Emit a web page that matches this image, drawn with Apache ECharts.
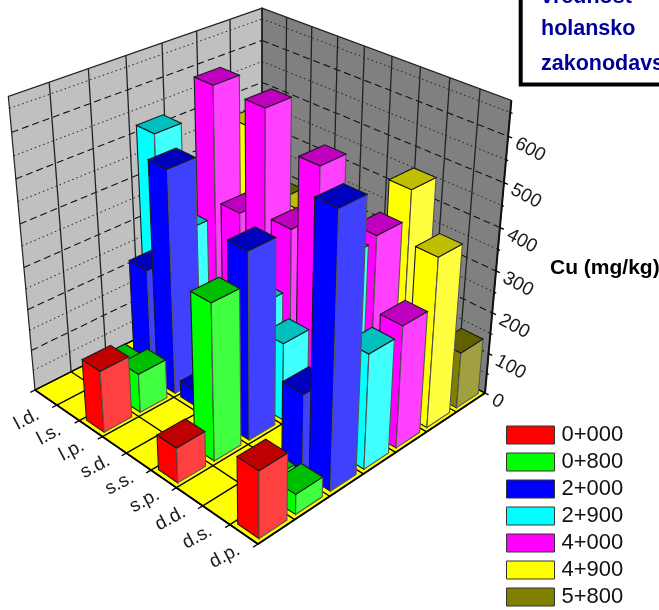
<!DOCTYPE html>
<html>
<head>
<meta charset="utf-8">
<style>html,body{margin:0;padding:0;background:#fff}#c{width:659px;height:610px}</style>
<script src="https://cdn.jsdelivr.net/npm/echarts@6/dist/echarts.min.js"></script>
</head>
<body>
<div id="c"></div>
<script>
const categories = ['l.d.','l.s.','l.p.','s.d.','s.s.','s.p.','d.d.','d.s.','d.p.'];
const seriesNames = ['0+000','0+800','2+000','2+900','4+000','4+900','5+800'];
const values0 = [null,null,149,null,null,84,null,null,157];
const values1 = [null,72,95,null,null,367,null,35,48];
const values2 = [null,268,528,40,null,439,null,189,617];
const values3 = [520,320,null,null,241,187,null,445,271];
const values4 = [null,622,358,621,380,549,null,457,290];
const values5 = [null,500,null,360,null,null,null,519,402];
const values6 = [null,290,null,null,null,null,null,null,137];
const majorTicks = [0,100,200,300,400,500,600];
const minorTicks = [50,150,250,350,450,550,650];
const zMax = 675;
const baseColors = [[255,0,0],[0,255,0],[0,0,255],[0,255,255],[255,0,255],[255,255,0],[128,128,0]];
const allValues = [values0,values1,values2,values3,values4,values5,values6];

// perspective box: floor corners, vertical vanishing point, depth factor
const cL=[35,390], cF=[258,544], cR=[485,393], cB=[262,275], VP=[261,2880], LAM=-0.1055;
const sx=cL[0]-cF[0]+cR[0]-cB[0], sy=cL[1]-cF[1]+cR[1]-cB[1];
const dx1=cF[0]-cR[0], dx2=cB[0]-cR[0], dy1=cF[1]-cR[1], dy2=cB[1]-cR[1];
const det=dx1*dy2-dx2*dy1;
const hG=(sx*dy2-dx2*sy)/det, hH=(dx1*sy-sx*dy1)/det;
const hA=cF[0]-cL[0]+hG*cF[0], hB=cB[0]-cL[0]+hH*cB[0];
const hD=cF[1]-cL[1]+hG*cF[1], hE=cB[1]-cL[1]+hH*cB[1];
function P(s,t,z){
  const w=1+hG*s+hH*t+LAM*z;
  return [(hA*s+hB*t+cL[0]+LAM*z*VP[0])/w,(hD*s+hE*t+cL[1]+LAM*z*VP[1])/w];
}
const rgb=c=>'rgb('+c.map(Math.round).join(',')+')';
const nRows=seriesNames.length;
const BAR=0.76;

function poly(points,fill,stroke,lw){
  return {type:'polygon',shape:{points:points},style:{fill:fill,stroke:stroke||'#2a2a2a',lineWidth:lw||1.1}};
}
function line(a,b,color,lw,dash){
  return {type:'line',shape:{x1:a[0],y1:a[1],x2:b[0],y2:b[1]},style:{stroke:color,lineWidth:lw,lineDash:dash||null,fill:null}};
}
function barRenderer(row){
  const c=baseColors[row];
  const top=rgb(c.map(x=>x*0.75)), side=rgb(c.map(x=>x+(255-x)*0.25)), front=rgb(c);
  return function(params,api){
    const cs=params.coordSys;
    const i=api.value(0), val=api.value(1);
    const cx=api.coord([i,0])[0], bw=api.size([1,0])[0];
    const s0=(cx-bw*BAR/2-cs.x)/cs.width, s1=(cx+bw*BAR/2-cs.x)/cs.width;
    const t0=(row+0.5-BAR/2)/nRows, t1=(row+0.5+BAR/2)/nRows;
    const z=(cs.y+cs.height-api.coord([i,val])[1])/cs.height;
    const a=P(s0,t0,0),b=P(s1,t0,0),d=P(s1,t1,0);
    const at=P(s0,t0,z),bt=P(s1,t0,z),dt=P(s1,t1,z),et=P(s0,t1,z);
    return {type:'group',children:[
      poly([a,b,bt,at],front,'#1a1a1a'),
      poly([b,d,dt,bt],side,'#555'),
      poly([at,bt,dt,et],top,'#1a1a1a')
    ]};
  };
}
function frameRenderer(params,api){
  const cs=params.coordSys;
  const zn=v=>(cs.y+cs.height-api.coord([0,v])[1])/cs.height;
  const sn=u=>u/categories.length;
  const tn=v=>v/nRows;
  const kids=[];
  const n=categories.length;
  // walls and floor
  kids.push(poly([P(0,0,0),P(0,1,0),P(0,1,1),P(0,0,1)],'#c0c0c0','#222',1.2));
  kids.push(poly([P(0,1,0),P(1,1,0),P(1,1,1),P(0,1,1)],'#808080','#222',1.2));
  kids.push(poly([P(0,0,0),P(1,0,0),P(1,1,0),P(0,1,0)],'#ffff00','#000',1.5));
  // horizontal wall gridlines
  [[minorTicks,'#1c1c1c',1,[1.5,3]],[majorTicks,'#111',1.1,[7,4]]].forEach(([ticks,col,lw,dash])=>{
    ticks.forEach(v=>{
      if(v===0) return;
      const z=zn(v);
      kids.push(line(P(0,0,z),P(0,1,z),col,lw,dash));
      kids.push(line(P(0,1,z),P(1,1,z),col,lw,dash));
    });
  });
  // vertical wall gridlines
  for(let r=1;r<nRows;r++) kids.push(line(P(0,tn(r),0),P(0,tn(r),1),'#222',1.3));
  for(let k=1;k<n;k++) kids.push(line(P(sn(k),1,0),P(sn(k),1,1),'#222',1.3));
  kids.push(line(P(0,1,0),P(0,1,1),'#222',1.5));
  // floor gridlines
  for(let r=1;r<nRows;r++) kids.push(line(P(0,tn(r),0),P(1,tn(r),0),'#000',1.3));
  for(let k=1;k<n;k++) kids.push(line(P(sn(k),0,0),P(sn(k),1,0),'#000',1.3));
  // axis edges
  kids.push(line(P(0,0,0),P(1,0,0),'#000',1.6));
  kids.push(line(P(1,0,0),P(1,1,0),'#000',1.6));
  kids.push(line(P(1,1,0),P(1,1,1),'#111',2));
  // category ticks and labels
  for(let k=0;k<=n;k++) kids.push(line(P(sn(k),0,0),P(sn(k),-0.018,0),'#000',1.3));
  categories.forEach((name,k)=>{
    const cx=(api.coord([k,0])[0]-cs.x)/cs.width;
    const p=P(cx,0,0);
    kids.push({type:'text',x:p[0]-19,y:p[1]+22,rotation:28*Math.PI/180,
      style:{text:name,fontSize:19,fontFamily:'Liberation Sans',fill:'#1a1a1a',align:'center',verticalAlign:'middle'}});
  });
  // value ticks and labels
  minorTicks.forEach(v=>{const z=zn(v);kids.push(line(P(1,1,z),P(1.008,1,z),'#000',1.2));});
  majorTicks.forEach(v=>{
    const z=zn(v), p=P(1,1,z);
    kids.push(line(p,P(1.014,1,z),'#000',1.4));
    kids.push({type:'text',x:p[0]+8,y:p[1]+6,rotation:-28*Math.PI/180,
      style:{text:String(v),fontSize:19,fontFamily:'Liberation Sans',fill:'#1a1a1a',align:'left',verticalAlign:'middle'}});
  });
  return {type:'group',children:kids};
}
const series=[{type:'custom',name:'frame',silent:true,z:1,renderItem:frameRenderer,data:[[0,0]]}];
seriesNames.forEach((name,row)=>{
  const data=[];
  allValues[row].forEach((v,i)=>{ if(v!=null) data.push([i,v]); });
  series.push({type:'custom',name:name,z:20-row,renderItem:barRenderer(row),data:data,
    itemStyle:{color:rgb(baseColors[row]),borderColor:'#333',borderWidth:1}});
});
const chart=echarts.init(document.getElementById('c'),null,{renderer:'canvas',width:659,height:610});
chart.setOption({
  animation:false,
  backgroundColor:'#fff',
  grid:{left:0,right:0,top:0,bottom:0},
  xAxis:{type:'category',data:categories,show:false},
  yAxis:{type:'value',min:0,max:zMax,show:false},
  legend:{data:seriesNames,orient:'vertical',left:501,top:419,height:240,icon:'rect',itemWidth:48,itemHeight:18,itemGap:5,
    selectedMode:false,textStyle:{fontSize:22,fontFamily:'Liberation Sans',color:'#111',padding:[0,0,0,2]},
    itemStyle:{borderColor:'#333',borderWidth:1}},
  graphic:[
    {type:'rect',z:100,shape:{x:520.7,y:-10,width:200,height:94.5},style:{fill:'#fff',stroke:'#000',lineWidth:4}},
    {type:'text',z:101,x:541,y:8,style:{text:'vrednost',fontSize:21.5,fontWeight:'bold',fontFamily:'Liberation Sans',fill:'#000099',verticalAlign:'bottom'}},
    {type:'text',z:101,x:541,y:40,style:{text:'holansko',fontSize:21.5,fontWeight:'bold',fontFamily:'Liberation Sans',fill:'#000099',verticalAlign:'bottom'}},
    {type:'text',z:101,x:541,y:75,style:{text:'zakonodavs',fontSize:21.5,fontWeight:'bold',fontFamily:'Liberation Sans',fill:'#000099',verticalAlign:'bottom'}},
    {type:'text',z:101,x:550,y:268,style:{text:'Cu (mg/kg)',fontSize:21,fontWeight:'bold',fontFamily:'Liberation Sans',fill:'#000',verticalAlign:'middle'}}
  ],
  series:series
});
</script>
</body>
</html>
